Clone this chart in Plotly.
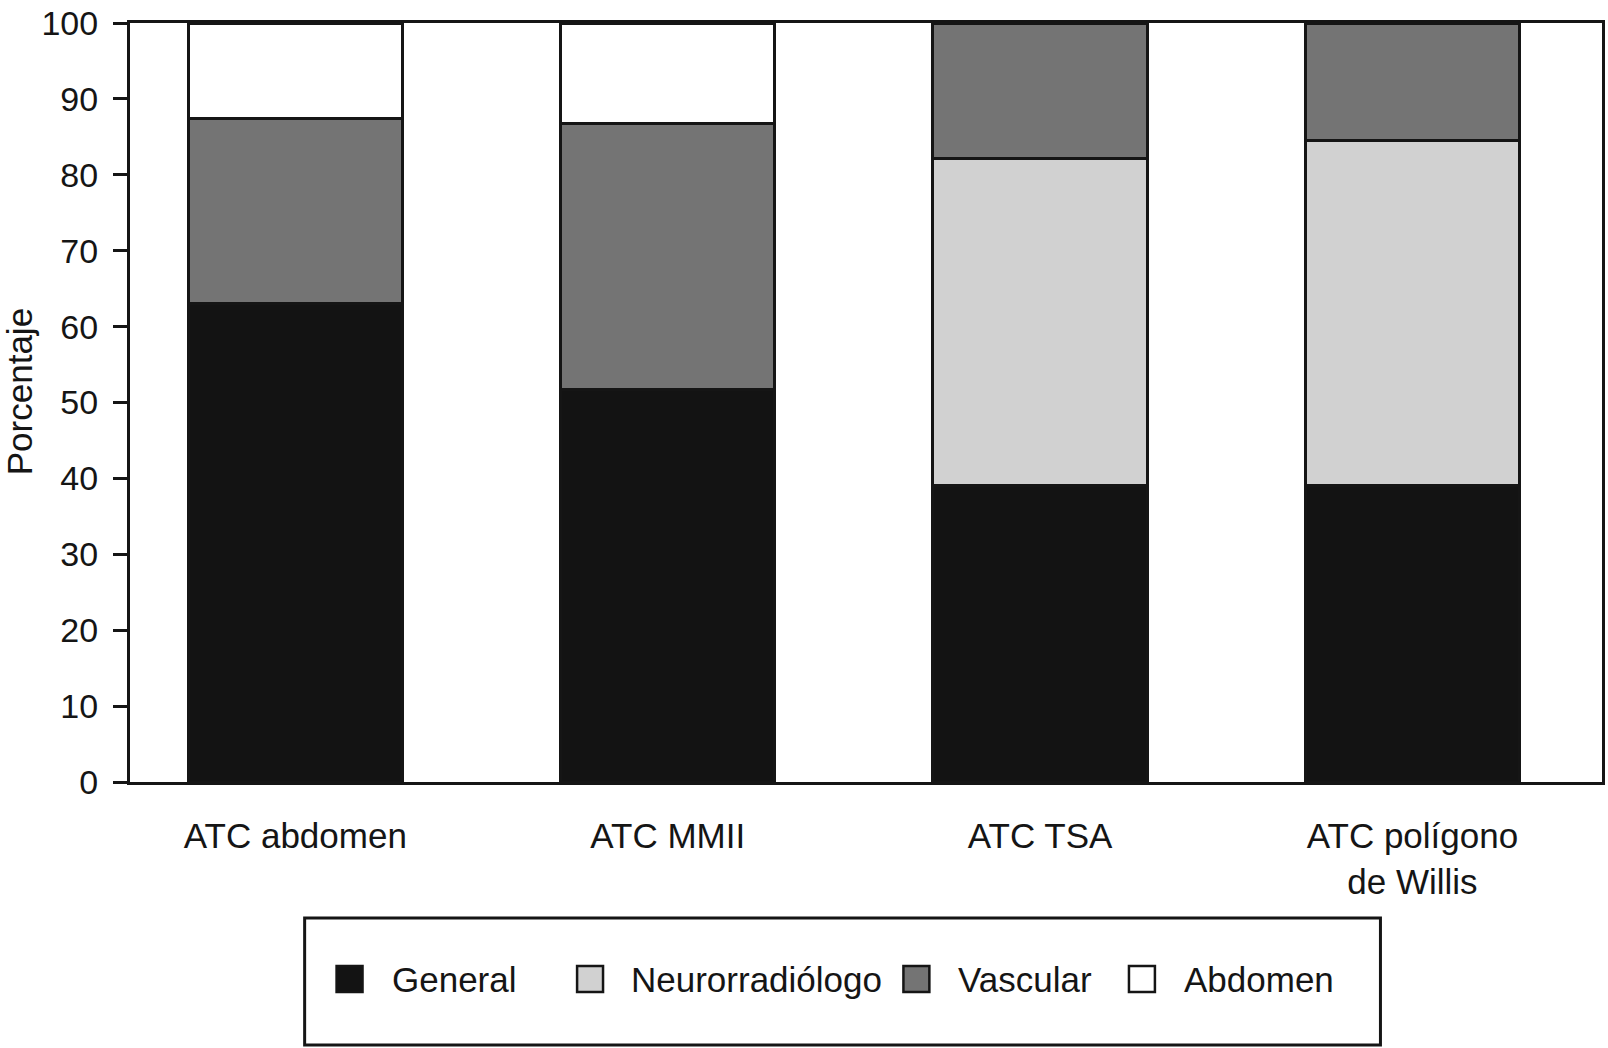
import plotly.graph_objects as go

categories = ["ATC abdomen", "ATC MMII", "ATC TSA", "ATC polígono<br>de Willis"]
series_names = ["General", "Neurorradiólogo", "Vascular", "Abdomen"]
general = [63.1, 51.7, 39.1, 39.0]
neuro = [None, None, 43.1, 45.5]
vascular = [24.3, 35.1, 17.8, 15.5]
abdomen = [12.6, 13.2, None, None]
y_ticks = [0, 10, 20, 30, 40, 50, 60, 70, 80, 90, 100]

colors = ["#131313", "#d1d1d1", "#747474", "#ffffff"]
values = [general, neuro, vascular, abdomen]

W, H = 1608, 1048
L, R, T, B = 130, 3, 23, 266
PW, PH = W - L - R, H - T - B


def px(x):
    return (x - L) / PW


def py(y):
    return (H - B - y) / PH


FONT = "Liberation Sans, Arial, sans-serif"
INK = "#151515"

fig = go.Figure()
for name, vals, col in zip(series_names, values, colors):
    fig.add_trace(go.Bar(
        x=categories, y=vals, name=name,
        marker=dict(color=col, line=dict(color=INK, width=3)),
        width=0.576, showlegend=False,
    ))

# manual legend (box, swatches, labels)
shapes = [dict(type="rect", xref="paper", yref="paper",
               x0=px(305), x1=px(1383), y0=py(918), y1=py(1045),
               line=dict(color=INK, width=3), fillcolor="rgba(0,0,0,0)")]
annotations = []
sq_left = [337, 578, 905, 1131]
txt_left = [391, 630, 958, 1184]
cy = 979
for name, col, sx, tx in zip(series_names, colors, sq_left, txt_left):
    shapes.append(dict(type="rect", xref="paper", yref="paper",
                       x0=px(sx), x1=px(sx + 26), y0=py(cy - 13), y1=py(cy + 13),
                       line=dict(color=INK, width=2.5), fillcolor=col))
    annotations.append(dict(text=name, xref="paper", yref="paper",
                            x=px(tx), y=py(cy), xanchor="left", yanchor="middle",
                            showarrow=False, font=dict(size=35, color=INK, family=FONT)))

annotations.append(dict(text="Porcentaje", xref="paper", yref="paper",
                        x=px(19), y=py(392), xanchor="center", yanchor="middle",
                        textangle=-90, showarrow=False,
                        font=dict(size=35, color=INK, family=FONT)))

fig.update_layout(
    width=W, height=H, barmode="stack",
    margin=dict(l=L, r=R, t=T, b=B),
    paper_bgcolor="white", plot_bgcolor="white",
    font=dict(family=FONT, color=INK),
    shapes=shapes, annotations=annotations,
    showlegend=False,
)
fig.update_xaxes(
    range=[-0.444, 3.509], showgrid=False, ticks="",
    showline=True, linecolor=INK, linewidth=3, mirror=True,
    tickfont=dict(size=35, color=INK, family=FONT),
    ticklabelstandoff=21,
)
fig.update_yaxes(
    range=[0, 100], tickvals=y_ticks, showgrid=False, zeroline=False,
    ticks="outside", ticklen=14, tickwidth=3, tickcolor=INK,
    showline=True, linecolor=INK, linewidth=3, mirror=True,
    tickfont=dict(size=34, color=INK, family=FONT),
    ticklabelstandoff=8,
)

fig.write_html(
    "out.html",
    config={"displayModeBar": False},
    post_script="document.body.style.margin='0';document.body.style.overflow='hidden';",
)
